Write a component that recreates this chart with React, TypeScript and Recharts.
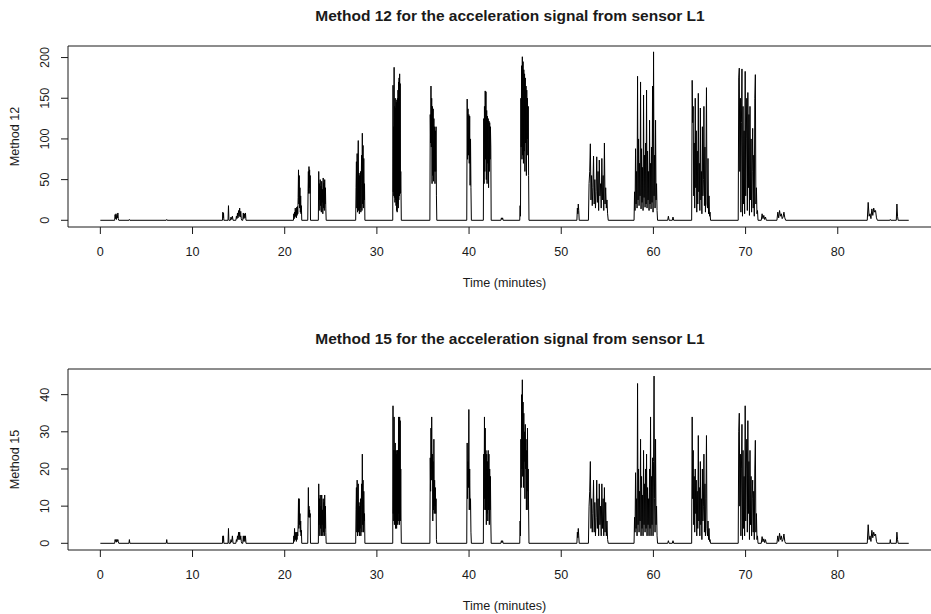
import { Line, LineChart, ReferenceLine, XAxis, YAxis } from "recharts";

// start and end (minutes) of each burst of activity, shared by both panels
const burstStart = [
  1.55, 3.1, 7.15, 13.25, 13.85, 14.1, 14.7, 15.45, 20.95, 22.5, 23.65, 27.7, 31.72, 35.75, 39.75,
  41.55, 43.45, 45.5, 51.7, 52.95, 57.9, 61.55, 62.05, 64.15, 69.2, 71.7, 73.4, 83.2, 85.65, 86.35,
];
const burstEnd = [
  2.0, 3.2, 7.25, 13.4, 13.95, 14.4, 15.35, 15.8, 21.85, 22.8, 24.5, 28.7, 32.65, 36.5, 40.25,
  42.4, 43.7, 46.5, 51.95, 55.1, 60.45, 61.7, 62.2, 66.2, 71.35, 72.25, 74.35, 84.3, 85.75, 86.55,
];
const lastTime = 87.7;

const method12Bursts = [
  [0, 7, 2, 8, 1, 6, 3, 9, 2, 0],
  [0, 1, 0],
  [0, 1, 0],
  [0, 10, 3, 9, 0],
  [0, 18, 0],
  [0, 4, 1, 5, 0],
  [0, 5, 2, 9, 3, 12, 5, 15, 4, 11, 2, 0],
  [0, 9, 2, 8, 3, 9, 0],
  [0, 8, 2, 10, 4, 15, 5, 12, 3, 16, 6, 17, 8, 28, 62, 20, 55, 15, 40, 10, 30, 8, 18, 0],
  [0, 35, 60, 33, 66, 40, 62, 33, 55, 0],
  [0, 60, 25, 45, 12, 50, 18, 42, 10, 48, 22, 38, 8, 52, 15, 46, 12, 50, 20, 40, 15, 0],
  [0, 40, 72, 15, 82, 10, 60, 98, 12, 58, 8, 55, 15, 60, 10, 45, 80, 12, 107, 20, 92, 15, 76, 25, 45, 0],
  [0, 166, 35, 115, 30, 188, 28, 140, 22, 150, 25, 138, 18, 145, 12, 148, 10, 150, 20, 160, 15, 170, 25, 175, 30, 180, 35, 168, 33, 60, 33, 0],
  [0, 130, 95, 165, 90, 150, 45, 140, 55, 137, 48, 125, 60, 115, 45, 110, 60, 115, 30, 0],
  [0, 149, 75, 137, 80, 130, 70, 128, 43, 100, 40, 0],
  [0, 125, 45, 140, 60, 159, 75, 158, 50, 135, 45, 128, 70, 125, 40, 122, 60, 120, 75, 115, 90, 0],
  [0, 3, 1, 3, 0],
  [0, 18, 5, 150, 90, 190, 75, 201, 80, 195, 70, 185, 85, 180, 60, 175, 95, 165, 55, 160, 100, 150, 80, 140, 55, 0],
  [0, 15, 8, 20, 12, 0],
  [0, 45, 60, 94, 25, 55, 18, 40, 79, 20, 50, 15, 35, 78, 22, 60, 12, 74, 30, 45, 15, 76, 25, 55, 12, 95, 20, 40, 15, 25, 8, 0],
  [0, 35, 12, 88, 20, 60, 15, 177, 25, 100, 18, 70, 30, 170, 14, 88, 22, 65, 12, 154, 28, 80, 16, 95, 20, 160, 15, 85, 25, 60, 12, 123, 20, 70, 14, 90, 22, 165, 10, 207, 30, 80, 15, 123, 25, 45, 12, 0],
  [0, 5, 0],
  [0, 4, 0],
  [0, 172, 120, 140, 30, 95, 15, 150, 40, 110, 10, 85, 20, 156, 35, 70, 12, 138, 25, 60, 8, 115, 30, 50, 140, 18, 90, 10, 75, 163, 20, 15, 76, 8, 30, 5, 10, 0],
  [0, 175, 187, 60, 150, 10, 120, 186, 5, 140, 20, 110, 8, 183, 30, 100, 150, 12, 157, 40, 130, 6, 140, 25, 100, 10, 60, 113, 15, 80, 5, 150, 179, 20, 40, 8, 12, 0],
  [0, 8, 2, 6, 1, 4, 0],
  [0, 10, 3, 12, 5, 8, 2, 4, 10, 3, 0],
  [0, 22, 5, 8, 2, 14, 6, 15, 10, 12, 3, 0],
  [0, 1, 0],
  [0, 20, 5, 0],
];

const method15Bursts = [
  [0, 1, 0.5, 1, 0.3, 1, 0.5, 1, 0.5, 0],
  [0, 1, 0],
  [0, 1, 0],
  [0, 2, 0.5, 2, 0],
  [0, 4, 0],
  [0, 1, 0.3, 2, 0],
  [0, 1, 0.5, 2, 1, 3, 1, 3, 1, 2, 0.5, 0],
  [0, 2, 0.5, 2, 0.5, 2, 0],
  [0, 2, 0.5, 4, 1, 3, 1, 2, 0.5, 3, 1, 3, 2, 5, 12, 4, 12, 5, 8, 3, 6, 2, 3.5, 0],
  [0, 7, 15, 7, 10, 7, 9, 7, 8, 0],
  [0, 16, 5, 12, 2, 13, 4, 10, 2, 13, 5, 9, 2, 12, 3, 11, 2, 13, 4, 10, 3, 0],
  [0, 9, 15, 3, 17, 2, 12, 16, 3, 11, 2, 10, 4, 12, 2, 9, 16, 3, 24, 5, 17, 3, 14, 6, 8, 0],
  [0, 37, 8, 25, 6, 34, 5, 25, 6, 27, 4, 25, 5, 24, 4, 25, 6, 25, 5, 25, 8, 34, 6, 25, 5, 34, 8, 33, 6, 20, 6, 0],
  [0, 23, 14, 31, 17, 34, 20, 24, 6, 22, 9, 28, 8, 17, 10, 15, 8, 12, 1, 0],
  [0, 27, 12, 22, 15, 36, 9, 20, 9, 12, 3, 0],
  [0, 24, 9, 34, 12, 31, 9, 25, 5, 24, 8, 22, 6, 25, 9, 24, 5, 20, 9, 18, 6, 0],
  [0, 0.7, 0.2, 0.7, 0],
  [0, 6, 2, 28, 15, 40, 20, 44, 18, 38, 15, 35, 22, 30, 12, 32, 20, 28, 9, 25, 14, 31, 9, 20, 9, 0],
  [0, 3, 1.5, 4, 2, 0],
  [0, 10, 14, 22, 4, 12, 3, 8, 17, 3, 11, 2, 7, 17, 4, 12, 2, 16, 5, 10, 2, 16, 4, 12, 2, 15, 3, 11, 2, 6, 1, 0],
  [0, 7, 3, 19, 4, 12, 2, 43, 5, 20, 3, 14, 6, 28, 2, 18, 4, 13, 2, 25, 5, 16, 3, 20, 4, 24, 2, 15, 5, 12, 2, 20, 4, 34, 2, 18, 5, 23, 2, 22, 45, 12, 3, 28, 5, 10, 2, 0],
  [0, 0.7, 0],
  [0, 0.7, 0],
  [0, 34, 12, 25, 5, 18, 3, 20, 8, 17, 2, 14, 4, 29, 6, 15, 2, 22, 5, 12, 1, 20, 6, 10, 24, 3, 16, 2, 12, 29, 4, 2, 6, 1, 4, 0.5, 1, 0],
  [0, 30, 35, 10, 24, 2, 20, 32, 1, 25, 4, 18, 2, 37, 6, 20, 28, 3, 33, 8, 22, 1, 25, 5, 18, 2, 12, 17, 3, 14, 1, 20, 27.7, 3, 8, 1, 2, 0],
  [0, 1.8, 0.4, 1.2, 0.2, 1, 0],
  [0, 2, 0.5, 2.7, 1, 2, 0.5, 1, 2.5, 0.5, 0],
  [0, 5, 1, 2, 0.5, 3.5, 1.5, 3, 2, 2.5, 0.5, 0],
  [0, 1, 0],
  [0, 3, 1, 0],
];

const xTicks = [0, 10, 20, 30, 40, 50, 60, 70, 80];
const method12Ticks = [0, 50, 100, 150, 200];
const method15Ticks = [0, 10, 20, 30, 40];

// samples inside a burst are equally spaced between its start and end
function buildSeries(bursts: number[][]) {
  const points = [{ t: 0, v: 0 }];
  bursts.forEach((vals, i) => {
    const step = (burstEnd[i] - burstStart[i]) / (vals.length - 1);
    vals.forEach((v, j) => points.push({ t: burstStart[i] + j * step, v }));
  });
  points.push({ t: lastTime, v: 0 });
  return points;
}

const ink = "#1a1a1a";
const font = "'Liberation Sans', Arial, sans-serif";
const axisFont = 12.6;

function YTick(props: any) {
  const { y, payload } = props;
  return (
    <text
      x={45}
      y={y}
      transform={`rotate(-90 45 ${y})`}
      textAnchor="middle"
      dominantBaseline="central"
      fontSize={axisFont}
      fill={ink}
      fontFamily={font}
    >
      {payload.value}
    </text>
  );
}

type PanelProps = {
  top: number;
  title: string;
  yLabel: string;
  data: Array<{ t: number; v: number }>;
  yDomain: [number, number];
  yTicks: number[];
};

function Panel({ top, title, yLabel, data, yDomain, yTicks }: PanelProps) {
  return (
    <div style={{ position: "absolute", left: 0, top, width: 931, height: 307, overflow: "hidden" }}>
      <LineChart width={941} height={307} data={data} margin={{ top: 46, right: 0, bottom: 0, left: 0 }}>
        <XAxis
          dataKey="t"
          type="number"
          domain={[-3.51, 91.2]}
          ticks={xTicks}
          allowDataOverflow
          height={80}
          tickSize={7}
          tickMargin={13}
          stroke={ink}
          tick={{ fontSize: axisFont, fill: ink, fontFamily: font }}
        />
        <YAxis
          type="number"
          domain={yDomain}
          ticks={yTicks}
          allowDataOverflow
          width={68}
          tickSize={7}
          stroke={ink}
          tick={<YTick />}
        />
        <ReferenceLine y={yDomain[1]} stroke={ink} strokeWidth={1} />
        <Line
          type="linear"
          dataKey="v"
          stroke="#000"
          strokeWidth={1}
          dot={false}
          activeDot={false}
          isAnimationActive={false}
        />
      </LineChart>
      <svg width={931} height={307} style={{ position: "absolute", left: 0, top: 0, pointerEvents: "none" }}>
        <text x={510} y={15} textAnchor="middle" dominantBaseline="central" fontSize={15.5} fontWeight="bold" fill={ink} fontFamily={font}>
          {title}
        </text>
        <text
          x={15}
          y={136.5}
          transform="rotate(-90 15 136.5)"
          textAnchor="middle"
          dominantBaseline="central"
          fontSize={axisFont}
          fill={ink}
          fontFamily={font}
        >
          {yLabel}
        </text>
        <text x={504.5} y={283} textAnchor="middle" dominantBaseline="central" fontSize={axisFont} fill={ink} fontFamily={font}>
          Time (minutes)
        </text>
      </svg>
    </div>
  );
}

export default function App() {
  const method12 = buildSeries(method12Bursts);
  const method15 = buildSeries(method15Bursts);

  return (
    <div
      style={{
        position: "absolute",
        left: 0,
        top: 0,
        width: 931,
        height: 614,
        overflow: "hidden",
        background: "#fff",
        fontFamily: font,
      }}
    >
      <Panel
        top={0}
        title="Method 12 for the acceleration signal from sensor L1"
        yLabel="Method 12"
        data={method12}
        yDomain={[-8.24, 214.2]}
        yTicks={method12Ticks}
      />
      <Panel
        top={323}
        title="Method 15 for the acceleration signal from sensor L1"
        yLabel="Method 15"
        data={method15}
        yDomain={[-1.8, 46.9]}
        yTicks={method15Ticks}
      />
    </div>
  );
}
